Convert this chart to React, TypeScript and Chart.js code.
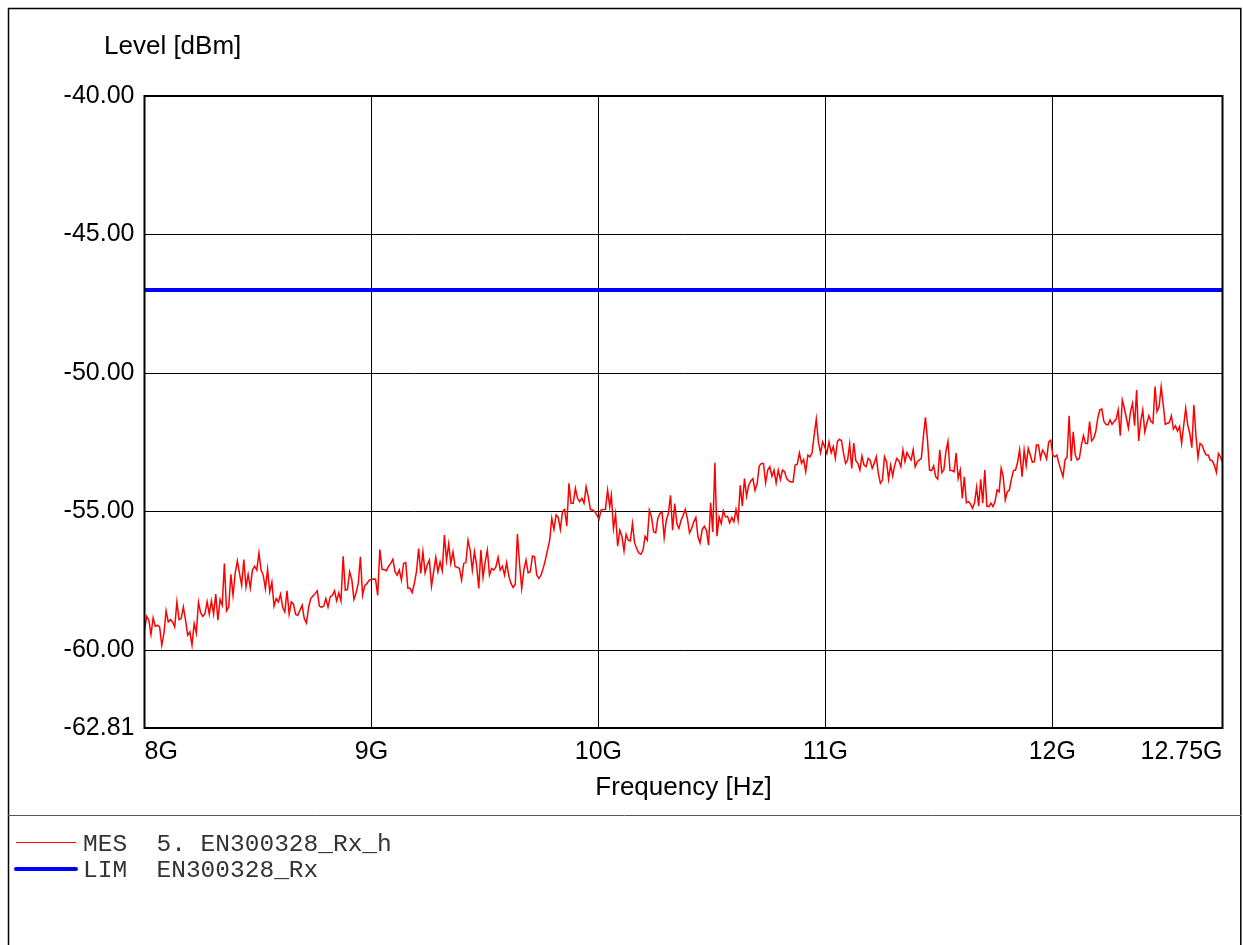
import React, { useEffect, useRef } from "react";
import { Chart, registerables } from "chart.js";

Chart.register(...registerables);

// ---- Data (levels in dBm, frequency in GHz) ----
const seg1Span = [8.0, 9.037];
const seg1 = [
  -59.28,-58.78,-58.92,-59.44,-58.84,-59.14,-59.10,-59.16,-59.82,-59.40,
  -58.58,-58.98,-58.90,-58.98,-59.16,-58.26,-58.90,-58.86,-58.44,-58.92,
  -59.46,-59.34,-59.82,-59.04,-59.38,-58.27,-58.65,-58.78,-58.68,-58.25,
  -58.70,-58.22,-58.70,-57.98,-58.92,-58.17,-58.38,-56.87,-58.58,-58.44,
  -57.26,-58.02,-57.23,-56.78,-57.23,-57.66,-56.73,-57.72,-57.27,-57.75,
  -57.11,-56.97,-57.11,-56.49,-57.11,-57.30,-57.78,-57.08,-57.90,-57.54,
  -58.41,-58.14,-58.26,-57.98,-58.46,-58.62,-57.86,-58.70,-58.26,-58.34,
  -58.71,-58.74,-58.56,-58.38,-58.86,-59.02,-58.46,-58.14,-58.05,-57.96,
  -57.86,-58.41,-58.46,-58.41,-58.14,-58.44,-58.08,-58.02,-57.86,-58.22,
  -57.93,-58.22,-56.61,-57.84,-57.81,-57.17,-57.45,-58.17,-57.93,-57.60,
  -56.63,-58.02,-57.67,-57.60,-57.48,-57.45,-57.43,-57.44,-58.02,-56.37,
];
const seg2Span = [9.047, 10.05];
const seg2 = [
  -57.09,-57.09,-57.13,-56.97,-56.87,-56.72,-57.17,-57.29,-57.11,-57.47,
  -56.87,-56.84,-57.77,-57.77,-57.92,-57.59,-57.17,-56.33,-57.23,-56.45,
  -57.21,-56.93,-56.75,-57.69,-57.17,-56.65,-57.17,-56.81,-57.13,-55.85,
  -56.75,-56.17,-56.87,-56.45,-56.99,-57.01,-57.05,-57.47,-56.87,-56.84,
  -56.03,-56.39,-57.11,-56.45,-56.93,-57.77,-56.39,-57.37,-56.81,-56.39,
  -57.29,-57.05,-57.11,-56.99,-56.65,-57.11,-56.97,-57.29,-56.84,-57.33,
  -57.59,-57.74,-57.62,-55.81,-56.89,-57.77,-57.11,-56.75,-57.21,-57.17,
  -56.60,-56.63,-57.29,-57.41,-57.29,-57.05,-56.75,-56.39,-56.05,-55.24,
  -55.64,-55.12,-55.21,-55.64,-55.00,-54.92,-55.52,-53.98,-54.70,-54.70,
  -54.16,-54.52,-54.64,-54.52,-54.70,-54.10,-54.46,-54.92,-54.94,-55.00,
  -55.12,-55.28,-54.94,-54.92,-54.92,-54.22,-54.82,
];
const seg3Span = [10.057, 11.016];
const seg3 = [
  -54.41,-55.61,-55.09,-56.25,-55.67,-55.89,-56.42,-55.82,-56.03,-56.06,
  -55.43,-56.13,-56.33,-56.49,-56.54,-56.39,-55.89,-56.03,-54.95,-55.19,
  -55.73,-55.77,-55.25,-55.07,-55.01,-55.94,-55.31,-55.07,-54.41,-55.67,
  -54.71,-55.43,-55.61,-55.31,-55.13,-54.92,-55.25,-55.77,-55.61,-55.37,
  -55.21,-55.91,-56.13,-55.65,-55.53,-55.67,-56.21,-54.68,-55.73,-53.24,
  -55.89,-55.19,-55.43,-54.97,-55.19,-55.17,-55.41,-55.21,-55.37,-54.92,
  -55.31,-54.05,-54.80,-53.81,-54.44,-54.05,-53.89,-53.81,-54.23,-53.99,
  -53.36,-53.26,-53.26,-53.96,-53.50,-53.38,-53.72,-53.50,-53.96,-53.50,
  -53.84,-53.50,-53.56,-53.81,-53.89,-53.93,-53.93,-53.32,-53.29,-52.88,
  -53.26,-53.12,-53.56,-52.96,-53.02,-52.88,-52.24,-51.66,-52.48,-52.88,
  -52.48,-52.66,-52.90,-52.48,
];
const seg4Span = [11.026, 11.856];
const seg4 = [
  -52.87,-52.65,-53.08,-52.47,-52.39,-52.44,-52.89,-53.26,-53.14,-52.56,
  -53.44,-52.53,-53.16,-53.26,-53.50,-52.99,-53.32,-53.38,-53.08,-53.14,
  -53.44,-53.26,-53.02,-53.62,-53.98,-53.86,-53.02,-53.20,-53.83,-53.32,
  -53.71,-53.32,-53.08,-53.16,-53.38,-52.77,-53.20,-52.87,-53.02,-53.14,
  -52.77,-53.38,-53.20,-53.14,-53.08,-52.29,-51.60,-52.41,-53.50,-53.52,
  -53.35,-53.74,-53.83,-52.77,-53.59,-53.50,-52.83,-52.47,-53.52,-53.52,
  -53.56,-52.89,-53.80,-53.50,-54.52,-53.74,-54.68,-54.64,-54.72,-54.88,
  -54.68,-54.12,-54.80,-53.83,-54.70,-53.50,-54.80,-54.82,-54.70,-54.82,
  -54.64,-54.22,-54.28,-53.44,-53.74,-54.58,-54.28,-54.22,-53.83,-53.52,
  -53.50,-53.23,-52.77,
];
const seg5Span = [11.867, 12.75];
const seg5 = [
  -53.74,-52.78,-53.34,-52.72,-52.96,-53.22,-53.20,-52.60,-52.60,-53.08,
  -52.78,-52.90,-53.10,-52.48,-52.42,-52.96,-53.02,-52.96,-53.26,-53.50,
  -53.74,-53.14,-53.02,-51.54,-53.17,-52.12,-52.96,-53.14,-53.08,-52.60,
  -52.26,-52.54,-52.54,-51.75,-52.45,-52.36,-52.12,-51.63,-51.33,-51.30,
  -51.75,-51.85,-51.87,-51.69,-51.85,-51.75,-51.66,-51.33,-52.26,-50.97,
  -51.27,-51.63,-51.99,-51.39,-51.09,-51.90,-50.61,-52.45,-51.75,-51.33,
  -52.12,-51.81,-51.54,-51.75,-51.81,-50.49,-51.39,-51.21,-50.49,-51.13,
  -51.85,-51.81,-51.78,-51.54,-52.02,-51.90,-52.09,-51.93,-52.54,-51.90,
  -51.27,-51.87,-52.18,-52.69,-51.15,-52.24,-53.05,-52.54,-52.60,-52.81,
  -52.96,-52.96,-53.14,-53.17,-53.32,-53.58,-52.90,-53.02,-53.22,
];

const LIMIT_LEVEL = -47;
const LIMIT_SPAN = [8, 12.75];

const X_TICKS = [8, 9, 10, 11, 12, 12.75];
const X_LABELS = ["8G", "9G", "10G", "11G", "12G", "12.75G"];
const Y_TICKS = [-62.81, -60, -55, -50, -45, -40];
const Y_LABELS = ["-62.81", "-60.00", "-55.00", "-50.00", "-45.00", "-40.00"];

const Y_TITLE = "Level [dBm]";
const X_TITLE = "Frequency [Hz]";
const LEGEND_ROWS = ["MES  5. EN300328_Rx_h", "LIM  EN300328_Rx"];
const LEGEND_COLORS = ["#ff0000", "#0000ff"];

const W = 1243;
const H = 945;
const SANS = '"Liberation Sans", Arial, Helvetica, sans-serif';
const MONO = '"Liberation Mono", "Courier New", monospace';

function segPoints(span: number[], vals: number[]) {
  const n = vals.length;
  return vals.map((v, i) => ({ x: span[0] + ((span[1] - span[0]) * i) / (n - 1), y: v }));
}

const framePlugin = {
  id: "framePlugin",
  beforeDraw(chart: any) {
    const ctx = chart.ctx;
    ctx.save();
    ctx.fillStyle = "#fff";
    ctx.fillRect(0, 0, W, H);
    ctx.restore();
  },
  afterDraw(chart: any) {
    const ctx = chart.ctx;
    const a = chart.chartArea;
    ctx.save();
    // outer frame
    ctx.strokeStyle = "#000";
    ctx.lineWidth = 1.5;
    ctx.beginPath();
    ctx.moveTo(8.5, H + 5);
    ctx.lineTo(8.5, 8.5);
    ctx.lineTo(1240.8, 8.5);
    ctx.lineTo(1240.8, H + 5);
    ctx.stroke();
    // legend divider
    ctx.strokeStyle = "#555";
    ctx.lineWidth = 1;
    ctx.beginPath();
    ctx.moveTo(8, 815.5);
    ctx.lineTo(1241, 815.5);
    ctx.stroke();
    // plot border
    ctx.strokeStyle = "#000";
    ctx.lineWidth = 2;
    ctx.strokeRect(a.left, a.top, a.right - a.left, a.bottom - a.top);
    // titles
    ctx.fillStyle = "#000";
    ctx.font = "26px " + SANS;
    ctx.textBaseline = "alphabetic";
    ctx.textAlign = "left";
    ctx.fillText(Y_TITLE, 104, 54);
    ctx.textAlign = "center";
    ctx.fillText(X_TITLE, (a.left + a.right) / 2, 795);
    // legend
    ctx.font = "24.5px " + MONO;
    ctx.textAlign = "left";
    ctx.fillStyle = "#333";
    const rowsY = [842.5, 869];
    const widths = [1, 4];
    LEGEND_ROWS.forEach((txt, i) => {
      ctx.strokeStyle = LEGEND_COLORS[i];
      ctx.lineWidth = widths[i];
      ctx.lineCap = i === 1 ? "round" : "butt";
      ctx.beginPath();
      ctx.moveTo(16, rowsY[i]);
      ctx.lineTo(76, rowsY[i]);
      ctx.stroke();
      ctx.fillText(txt, 83, Math.round(rowsY[i]) + 8);
    });
    ctx.restore();
  },
};

export default function App() {
  const ref = useRef<HTMLCanvasElement>(null);
  useEffect(() => {
    if (!ref.current) return;
    const measured = [
      ...segPoints(seg1Span, seg1),
      ...segPoints(seg2Span, seg2),
      ...segPoints(seg3Span, seg3),
      ...segPoints(seg4Span, seg4),
      ...segPoints(seg5Span, seg5),
    ];
    const limit = LIMIT_SPAN.map((f) => ({ x: f, y: LIMIT_LEVEL }));
    const chart = new Chart(ref.current, {
      type: "line",
      data: {
        datasets: [
          {
            label: "LIM",
            data: limit,
            borderColor: "#0000ff",
            borderWidth: 4,
            pointRadius: 0,
            tension: 0,
          },
          {
            label: "MES",
            data: measured,
            borderColor: "#ff0000",
            borderWidth: 1.5,
            pointRadius: 0,
            tension: 0,
          },
        ],
      },
      options: {
        animation: false,
        responsive: false,
        devicePixelRatio: 1,
        layout: { padding: { left: 0.5, top: 96, right: 20.5, bottom: 157 } },
        plugins: { legend: { display: false }, tooltip: { enabled: false } },
        scales: {
          x: {
            type: "linear",
            min: 8,
            max: 12.75,
            afterBuildTicks: (s: any) => {
              s.ticks = X_TICKS.map((v) => ({ value: v }));
            },
            afterFit: (s: any) => {
              s.height = 60;
            },
            ticks: {
              autoSkip: false,
              maxRotation: 0,
              minRotation: 0,
              align: "inner",
              padding: 9,
              color: "#000",
              font: { size: 25, family: SANS },
              callback: (_v: any, i: number) => X_LABELS[i],
            },
            grid: { color: "#000", lineWidth: 1, drawTicks: false },
            border: { display: false },
          },
          y: {
            type: "linear",
            min: -62.81,
            max: -40,
            afterBuildTicks: (s: any) => {
              s.ticks = Y_TICKS.map((v) => ({ value: v }));
            },
            afterFit: (s: any) => {
              s.width = 144;
            },
            ticks: {
              autoSkip: false,
              padding: 10,
              color: "#000",
              font: { size: 25, family: SANS },
              callback: (_v: any, i: number) => Y_LABELS[i],
            },
            grid: { color: "#000", lineWidth: 1, drawTicks: false },
            border: { display: false },
          },
        },
      },
      plugins: [framePlugin],
    });
    return () => chart.destroy();
  }, []);
  return (
    <div style={{ position: "fixed", left: 0, top: 0, width: W, height: H, overflow: "hidden", background: "#fff" }}>
      <canvas ref={ref} width={W} height={H} style={{ display: "block", width: W, height: H }} />
    </div>
  );
}
